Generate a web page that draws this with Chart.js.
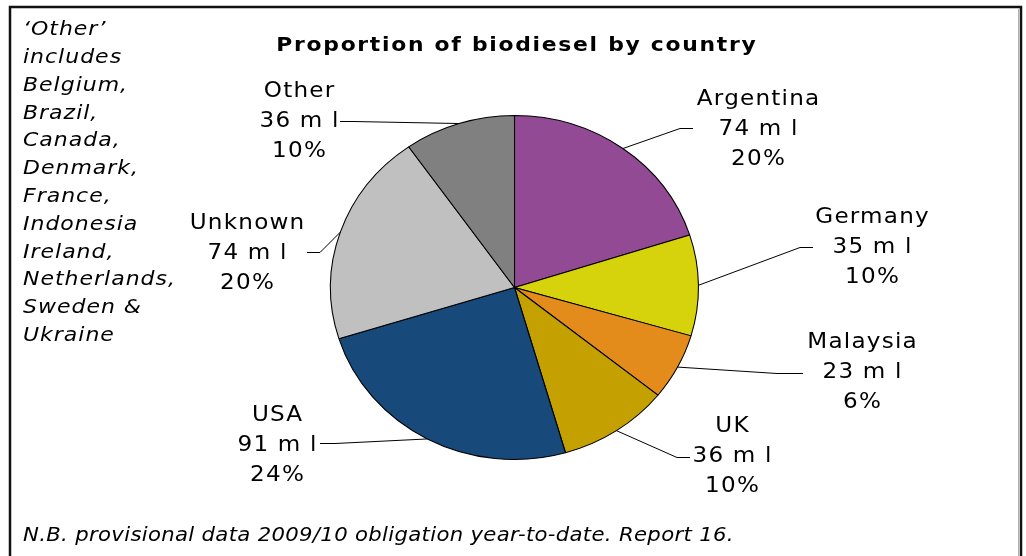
<!DOCTYPE html>
<html>
<head>
<meta charset="utf-8">
<script src="https://cdn.jsdelivr.net/npm/chart.js@4/dist/chart.umd.min.js"></script>
<style>
    html, body { margin: 0; padding: 0; background: #ffffff; }
    #grafico { display: block; }
</style>
</head>
<body>
<canvas id="grafico" width="1026" height="556"></canvas>
<script>
// Datos (millones de litros)
const paises = ['Argentina', 'Germany', 'Malaysia', 'UK', 'USA', 'Unknown', 'Other'];
const volumenes = [74, 35, 23, 36, 91, 74, 36];
const porcentajes = ['20%', '10%', '6%', '10%', '24%', '20%', '10%'];
const colores = ['#924a94', '#d6d20c', '#e38c1c', '#c4a000', '#17497a', '#c0c0c0', '#808080'];

const notaOtros = ['\u2018Other\u2019', 'includes', 'Belgium,', 'Brazil,', 'Canada,', 'Denmark,',
    'France,', 'Indonesia', 'Ireland,', 'Netherlands,', 'Sweden &', 'Ukraine'];
const titulo = 'Proportion of biodiesel by country';
const pieNota = 'N.B. provisional data 2009/10 obligation year-to-date. Report 16.';

// Posición de etiquetas: centro del texto y puntos de la línea guía
const etiquetas = [
    { x: 758, y: 130, codo: [680, 128], fin: [693, 128] },
    { x: 872, y: 248, codo: [800, 247], fin: [813, 247] },
    { x: 862, y: 373, codo: [777, 373], fin: [803, 373] },
    { x: 732, y: 457, codo: [677, 457], fin: [690, 457] },
    { x: 277, y: 446, codo: [335, 443], fin: [320, 443] },
    { x: 247, y: 254, codo: [320, 252], fin: [307, 252] },
    { x: 299, y: 122, codo: [353, 121], fin: [340, 121] }
];

// El pastel original está estirado en horizontal
const estiramiento = 184.5 / 172.5;

const pluginElipse = {
    id: 'elipse',
    beforeDatasetsDraw(chart) {
        const arc = chart.getDatasetMeta(0).data[0];
        const ctx = chart.ctx;
        ctx.save();
        ctx.translate(arc.x, arc.y);
        ctx.scale(estiramiento, 1);
        ctx.translate(-arc.x, -arc.y);
    },
    afterDatasetsDraw(chart) {
        chart.ctx.restore();
    }
};

/**
 * Dibuja texto ensanchado en horizontal y con espaciado entre letras
 */
function texto(ctx, t, x, y, alinear, ancho, espacio) {
    ctx.save();
    ctx.translate(x, y);
    ctx.scale(ancho, 1);
    ctx.letterSpacing = espacio + 'px';
    ctx.textAlign = alinear;
    ctx.fillText(t, alinear === 'center' ? espacio / 2 : 0, 0);
    ctx.restore();
}

const pluginTextos = {
    id: 'textos',
    afterDraw(chart) {
        const ctx = chart.ctx;
        ctx.save();

        // Marco
        ctx.strokeStyle = '#111111';
        ctx.lineWidth = 2.5;
        ctx.beginPath();
        ctx.moveTo(10, 600);
        ctx.lineTo(10, 7);
        ctx.lineTo(1021, 7);
        ctx.lineTo(1021, 600);
        ctx.stroke();
        ctx.strokeStyle = '#b0b0b0';
        ctx.lineWidth = 1;
        ctx.beginPath();
        ctx.moveTo(1018.5, 9);
        ctx.lineTo(1018.5, 600);
        ctx.stroke();

        // Título
        ctx.fillStyle = '#000000';
        ctx.textBaseline = 'middle';
        ctx.font = 'bold 19px "DejaVu Sans"';
        texto(ctx, titulo, 516, 46, 'center', 1.15, 1.5);

        // Líneas guía y etiquetas
        const meta = chart.getDatasetMeta(0);
        ctx.strokeStyle = '#000000';
        ctx.lineWidth = 1;
        ctx.font = '21px "DejaVu Sans"';
        meta.data.forEach((arc, i) => {
            const p = etiquetas[i];
            const medio = (arc.startAngle + arc.endAngle) / 2;
            const x0 = arc.x + Math.cos(medio) * arc.outerRadius * estiramiento;
            const y0 = arc.y + Math.sin(medio) * arc.outerRadius;
            ctx.beginPath();
            ctx.moveTo(x0, y0);
            ctx.lineTo(p.codo[0], p.codo[1] + 0.5);
            ctx.lineTo(p.fin[0], p.fin[1] + 0.5);
            ctx.stroke();

            const lineas = [paises[i], volumenes[i] + ' m l', porcentajes[i]];
            lineas.forEach((t, k) => {
                texto(ctx, t, p.x, p.y + (k - 1) * 30, 'center', 1.1, 1.1);
            });
        });

        // Notas en cursiva
        ctx.font = 'italic 20px "DejaVu Sans"';
        notaOtros.forEach((t, k) => {
            texto(ctx, t, 23, 30 + k * 27.8, 'left', 1.1, 0.9);
        });
        texto(ctx, pieNota, 23, 536, 'left', 1.06, 0.3);

        ctx.restore();
    }
};

const chart = new Chart(document.getElementById('grafico').getContext('2d'), {
    type: 'pie',
    data: {
        labels: paises,
        datasets: [{
            data: volumenes,
            backgroundColor: colores,
            borderColor: '#000000',
            borderWidth: 1
        }]
    },
    options: {
        responsive: false,
        animation: false,
        layout: {
            padding: { left: 342, right: 339, top: 115, bottom: 96 }
        },
        plugins: {
            legend: { display: false },
            tooltip: { enabled: false }
        }
    },
    plugins: [pluginElipse, pluginTextos]
});
</script>
</body>
</html>
